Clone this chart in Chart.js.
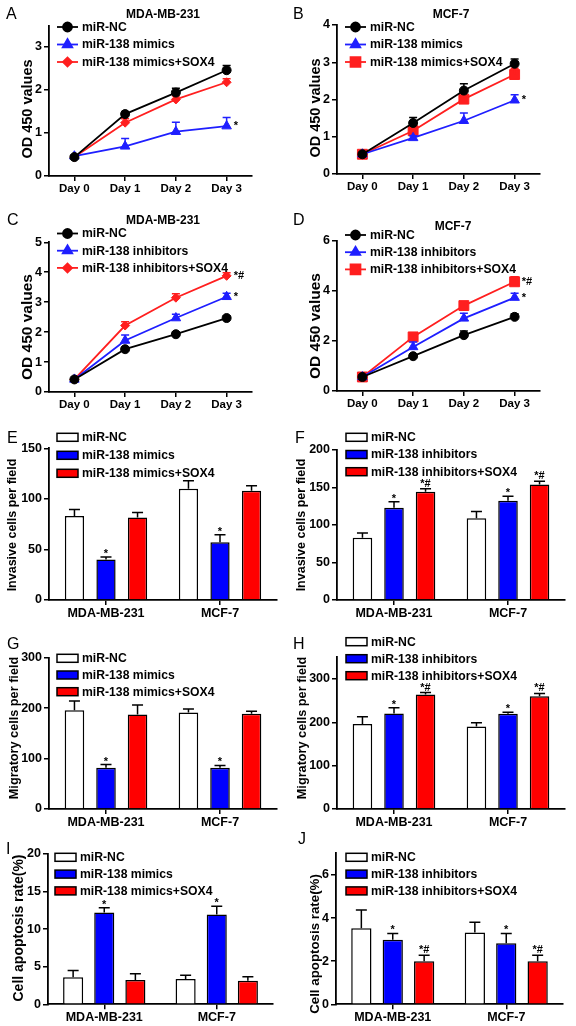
<!DOCTYPE html>
<html><head><meta charset="utf-8">
<script src="https://cdn.jsdelivr.net/npm/chart.js@4.4.0/dist/chart.umd.min.js"></script>
<style>
html,body{margin:0;padding:0;background:#fff;}
#wrap{position:relative;width:576px;height:1026px;overflow:hidden;background:#fff;}
#wrap canvas{position:absolute;}
.lbl{position:absolute;font-family:'Liberation Sans',Arial,sans-serif;font-size:16px;line-height:1;color:#000;}
</style></head><body><div id="wrap"></div>
<script>
// ---------- categories / labels ----------
const days = ['Day 0','Day 1','Day 2','Day 3'];
const cellLines = ['MDA-MB-231','MCF-7'];
const mimicsGroups = ['miR-NC','miR-138 mimics','miR-138 mimics+SOX4'];
const inhibGroups = ['miR-NC','miR-138 inhibitors','miR-138 inhibitors+SOX4'];

// ---------- A: MDA-MB-231 OD450, mimics ----------
const A_nc = [0.44,1.44,1.94,2.46],  A_ncErr = [0.03,0.06,0.10,0.11];
const A_mim = [0.46,0.69,1.03,1.16], A_mimErr = [0.02,0.18,0.22,0.20];
const A_sox = [0.44,1.24,1.78,2.18], A_soxErr = [0.02,0.09,0.08,0.08];
const A_ncMk = ['','','',''], A_mimMk = ['','','','*'], A_soxMk = ['','','',''];

// ---------- B: MCF-7 OD450, mimics ----------
const B_nc = [0.53,1.37,2.24,2.96],  B_ncErr = [0.03,0.15,0.18,0.13];
const B_mim = [0.53,0.97,1.43,1.98], B_mimErr = [0.03,0.06,0.21,0.15];
const B_sox = [0.53,1.16,2.01,2.67], B_soxErr = [0.03,0.07,0.08,0.17];
const B_ncMk = ['','','',''], B_mimMk = ['','','','*'], B_soxMk = ['','','',''];

// ---------- C: MDA-MB-231 OD450, inhibitors ----------
const C_nc = [0.42,1.43,1.93,2.47],  C_ncErr = [0.02,0.04,0.07,0.07];
const C_inh = [0.42,1.72,2.47,3.18], C_inhErr = [0.02,0.18,0.13,0.12];
const C_sox = [0.42,2.22,3.15,3.88], C_soxErr = [0.02,0.13,0.13,0.10];
const C_ncMk = ['','','',''], C_inhMk = ['','','','*'], C_soxMk = ['','','','*#'];

// ---------- D: MCF-7 OD450, inhibitors ----------
const D_nc = [0.56,1.39,2.23,2.96],  D_ncErr = [0.03,0.08,0.17,0.12];
const D_inh = [0.56,1.76,2.90,3.73], D_inhErr = [0.03,0.20,0.20,0.17];
const D_sox = [0.56,2.16,3.41,4.36], D_soxErr = [0.03,0.08,0.13,0.20];
const D_ncMk = ['','','',''], D_inhMk = ['','','','*'], D_soxMk = ['','','','*#'];

// ---------- E: invasive cells, mimics ----------
const E_nc = [83,110],   E_ncErr = [6.5,8];
const E_mim = [40,57],   E_mimErr = [2.5,7.5];
const E_sox = [81.5,108],E_soxErr = [5,5];
const E_ncMk = ['',''], E_mimMk = ['*','*'], E_soxMk = ['',''];

// ---------- F: invasive cells, inhibitors ----------
const F_nc = [83,109],     F_ncErr = [6.5,9];
const F_inh = [123,132.5], F_inhErr = [8,6];
const F_sox = [144.5,154], F_soxErr = [4,4.5];
const F_ncMk = ['',''], F_inhMk = ['*','*'], F_soxMk = ['*#','*#'];

// ---------- G: migratory cells, mimics ----------
const G_nc = [196,191.5],  G_ncErr = [18,7];
const G_mim = [82,82],     G_mimErr = [6,4.5];
const G_sox = [187.5,189], G_soxErr = [18.5,5];
const G_ncMk = ['',''], G_mimMk = ['*','*'], G_soxMk = ['',''];

// ---------- H: migratory cells, inhibitors ----------
const H_nc = [196,190.5],  H_ncErr = [17,8.5];
const H_inh = [220.5,220], H_inhErr = [13,3];
const H_sox = [264,260],   H_soxErr = [4.5,6.5];
const H_ncMk = ['',''], H_inhMk = ['*','*'], H_soxMk = ['*#','*#'];

// ---------- I: apoptosis, mimics ----------
const I_nc = [3.6,3.37],   I_ncErr = [0.9,0.5];
const I_mim = [12.2,11.95],I_mimErr = [0.65,1.1];
const I_sox = [3.25,3.15], I_soxErr = [0.8,0.5];
const I_ncMk = ['',''], I_mimMk = ['*','*'], I_soxMk = ['',''];

// ---------- J: apoptosis, inhibitors ----------
const J_nc = [3.53,3.33],  J_ncErr = [0.85,0.48];
const J_inh = [2.99,2.83], J_inhErr = [0.3,0.46];
const J_sox = [2.0,2.0],   J_soxErr = [0.28,0.28];
const J_ncMk = ['',''], J_inhMk = ['*','*'], J_soxMk = ['*#','*#'];

// ---------- styling ----------
const FONT = "'Liberation Sans', Arial, sans-serif";
const lineColors = ['#000000','#1f1fff','#ff1f1f'];
const barFills = ['#ffffff','#0000ff','#ff0000'];

const panels = [
 {key:'A',kind:'line',L:0,T:0,axisX:49,y0:176,yTop:25.5,xEnd:252,max:3.5,step:1,cats:days,groups:mimicsGroups,
  vals:[A_nc,A_mim,A_sox],errs:[A_ncErr,A_mimErr,A_soxErr],marks:[A_ncMk,A_mimMk,A_soxMk],
  styles:['circle','triangle','rectRot'],radii:[4.5,5.5,4.5],
  yTitle:'OD 450 values',yTitleX:28,yTitleY:109,yTitleSize:14.5,title:'MDA-MB-231',titleX:163,titleY:15,
  legX:57,legY:27,legDy:17.5,letter:'A',letX:6,letY:6,tickSize:12.5,xTickSize:11.5},
 {key:'B',kind:'line',L:288,T:0,axisX:337,y0:174,yTop:25,xEnd:540,max:4,step:1,cats:days,groups:mimicsGroups,
  vals:[B_nc,B_mim,B_sox],errs:[B_ncErr,B_mimErr,B_soxErr],marks:[B_ncMk,B_mimMk,B_soxMk],
  styles:['circle','triangle','rect'],radii:[4.5,5.5,7],
  yTitle:'OD 450 values',yTitleX:316,yTitleY:108,yTitleSize:14.5,title:'MCF-7',titleX:451,titleY:15,
  legX:345,legY:27,legDy:17.5,letter:'B',letX:293,letY:6,tickSize:12.5,xTickSize:11.5},
 {key:'C',kind:'line',L:0,T:200,axisX:49,y0:392,yTop:242.3,xEnd:252,max:5,step:1,cats:days,groups:inhibGroups,
  vals:[C_nc,C_inh,C_sox],errs:[C_ncErr,C_inhErr,C_soxErr],marks:[C_ncMk,C_inhMk,C_soxMk],
  styles:['circle','triangle','rectRot'],radii:[4.5,5.5,4.5],
  yTitle:'OD 450 values',yTitleX:28,yTitleY:327,yTitleSize:15.5,title:'MDA-MB-231',titleX:163,titleY:221,
  legX:57,legY:233.5,legDy:17.2,letter:'C',letX:7,letY:212,tickSize:12.5,xTickSize:11.5},
 {key:'D',kind:'line',L:288,T:200,axisX:337,y0:391,yTop:240.7,xEnd:540,max:6,step:2,cats:days,groups:inhibGroups,
  vals:[D_nc,D_inh,D_sox],errs:[D_ncErr,D_inhErr,D_soxErr],marks:[D_ncMk,D_inhMk,D_soxMk],
  styles:['circle','triangle','rect'],radii:[4.5,5.5,7],
  yTitle:'OD 450 values',yTitleX:316,yTitleY:326,yTitleSize:15.5,title:'MCF-7',titleX:453,titleY:227,
  legX:345,legY:235,legDy:17.2,letter:'D',letX:293,letY:212,tickSize:12.5,xTickSize:11.5},
 {key:'E',kind:'bar',L:0,T:405,axisX:49,y0:600,yTop:448.3,xEnd:277,max:150,step:50,cats:cellLines,groups:mimicsGroups,
  vals:[E_nc,E_mim,E_sox],errs:[E_ncErr,E_mimErr,E_soxErr],marks:[E_ncMk,E_mimMk,E_soxMk],
  yTitle:'Invasive cells per field',yTitleX:13,yTitleY:525,yTitleSize:12.5,
  legX:57,legY:437.3,legDy:18,letter:'E',letX:7,letY:430,tickSize:12.5,xTickSize:12.5,cat:0.83,bar:0.61},
 {key:'F',kind:'bar',L:288,T:405,axisX:337,y0:600,yTop:450,xEnd:565,max:200,step:50,cats:cellLines,groups:inhibGroups,
  vals:[F_nc,F_inh,F_sox],errs:[F_ncErr,F_inhErr,F_soxErr],marks:[F_ncMk,F_inhMk,F_soxMk],
  yTitle:'Invasive cells per field',yTitleX:302,yTitleY:525,yTitleSize:12.5,
  legX:346,legY:437.3,legDy:17.2,letter:'F',letX:295,letY:430,tickSize:12.5,xTickSize:12.5,cat:0.83,bar:0.62},
 {key:'G',kind:'bar',L:0,T:610,axisX:49,y0:809,yTop:657.7,xEnd:277,max:300,step:100,cats:cellLines,groups:mimicsGroups,
  vals:[G_nc,G_mim,G_sox],errs:[G_ncErr,G_mimErr,G_soxErr],marks:[G_ncMk,G_mimMk,G_soxMk],
  yTitle:'Migratory cells per field',yTitleX:14,yTitleY:728,yTitleSize:12.7,
  legX:57,legY:658.3,legDy:16.7,letter:'G',letX:7,letY:636,tickSize:12.5,xTickSize:12.5,cat:0.83,bar:0.62},
 {key:'H',kind:'bar',L:288,T:610,axisX:337,y0:809,yTop:657.3,xEnd:565,max:350,step:100,cats:cellLines,groups:inhibGroups,
  vals:[H_nc,H_inh,H_sox],errs:[H_ncErr,H_inhErr,H_soxErr],marks:[H_ncMk,H_inhMk,H_soxMk],
  yTitle:'Migratory cells per field',yTitleX:302,yTitleY:728,yTitleSize:12.7,
  legX:346,legY:641.7,legDy:17,letter:'H',letX:293,letY:636,tickSize:12.5,xTickSize:12.5,cat:0.83,bar:0.62},
 {key:'I',kind:'bar',L:0,T:815,axisX:48,y0:1004.3,yTop:854,xEnd:273,max:20,step:5,cats:cellLines,groups:mimicsGroups,
  vals:[I_nc,I_mim,I_sox],errs:[I_ncErr,I_mimErr,I_soxErr],marks:[I_ncMk,I_mimMk,I_soxMk],
  yTitle:'Cell apoptosis rate(%)',yTitleX:19,yTitleY:928,yTitleSize:14,
  legX:55,legY:857.3,legDy:16.8,letter:'I',letX:6,letY:841,tickSize:12.5,xTickSize:12.5,cat:0.83,bar:0.645},
 {key:'J',kind:'bar',L:288,T:815,axisX:336,y0:1004.3,yTop:853.4,xEnd:563,max:7,step:2,cats:cellLines,groups:inhibGroups,
  vals:[J_nc,J_inh,J_sox],errs:[J_ncErr,J_inhErr,J_soxErr],marks:[J_ncMk,J_inhMk,J_soxMk],
  yTitle:'Cell apoptosis rate(%)',yTitleX:315.5,yTitleY:944,yTitleSize:13.3,
  legX:346,legY:857.3,legDy:16.8,letter:'J',letX:298,letY:831,tickSize:12.5,xTickSize:12.5,cat:0.83,bar:0.645}
];

// ---------- plugins ----------
const errPlugin = {
  id:'errBars',
  afterDatasetDraw(chart, args){
    const ds = chart.data.datasets[args.index];
    if(!ds.err) return;
    const ys = chart.scales.y, ctx = chart.ctx;
    ctx.save(); ctx.strokeStyle = ds.errColor; ctx.lineWidth = 1.5;
    args.meta.data.forEach((el,i)=>{
      const e = ds.err[i]; if(!e) return;
      const v = ds.data[i];
      const yb = ys.getPixelForValue(v), yt = ys.getPixelForValue(v+e);
      ctx.beginPath();
      ctx.moveTo(el.x, yb); ctx.lineTo(el.x, yt);
      ctx.moveTo(el.x - ds.capW/2, yt); ctx.lineTo(el.x + ds.capW/2, yt);
      ctx.stroke();
    });
    ctx.restore();
  }
};

const decoPlugin = {
  id:'deco',
  afterDraw(chart, args, o){
    const ctx = chart.ctx, ys = chart.scales.y;
    const p = o.p;
    // significance marks
    ctx.save();
    ctx.fillStyle = '#000';
    ctx.font = 'bold 11px ' + FONT;
    chart.data.datasets.forEach((ds,di)=>{
      const meta = chart.getDatasetMeta(di);
      meta.data.forEach((el,i)=>{
        const m = ds.marks[i]; if(!m) return;
        if(p.kind==='line'){
          ctx.textAlign='left'; ctx.textBaseline='alphabetic';
          ctx.fillText(m, el.x+7, el.y+3);
        } else {
          const yt = ys.getPixelForValue(ds.data[i] + (ds.err[i]||0));
          ctx.textAlign='center'; ctx.textBaseline='alphabetic';
          ctx.fillText(m, el.x, yt - (m.length>1 ? 2 : 0));
        }
      });
    });
    // legend
    chart.data.datasets.forEach((ds,di)=>{
      const x = p.legX - p.L, y = p.legY - p.T + di*p.legDy;
      if(p.kind==='line'){
        ctx.strokeStyle = ds.borderColor; ctx.lineWidth = 1.8;
        ctx.beginPath(); ctx.moveTo(x, y); ctx.lineTo(x+21, y); ctx.stroke();
        ctx.fillStyle = ds.borderColor; ctx.strokeStyle = ds.borderColor;
        Chart.helpers.drawPoint(ctx, {pointStyle: ds.pointStyle, radius: ds.pointRadius, rotation:0, borderWidth:1}, x+10.5, y);
      } else {
        ctx.fillStyle = ds.backgroundColor; ctx.strokeStyle = '#000'; ctx.lineWidth = 1.5;
        ctx.fillRect(x, y-4, 21, 8); ctx.strokeRect(x, y-4, 21, 8);
      }
      ctx.fillStyle = '#000';
      ctx.font = 'bold 12.2px ' + FONT;
      ctx.textAlign='left'; ctx.textBaseline='middle';
      ctx.fillText(ds.label, x + (p.kind==='line'?25:25), y+0.5);
    });
    // panel title
    if(p.title){
      ctx.font = 'bold 12px ' + FONT;
      ctx.textAlign='center'; ctx.textBaseline='middle';
      ctx.fillText(p.title, p.titleX - p.L, p.titleY - p.T);
    }
    // y axis title
    ctx.translate(p.yTitleX - p.L, p.yTitleY - p.T);
    ctx.rotate(-Math.PI/2);
    ctx.font = 'bold ' + p.yTitleSize + 'px ' + FONT;
    ctx.textAlign='center'; ctx.textBaseline='middle';
    ctx.fillText(p.yTitle, 0, 0);
    ctx.restore();
  }
};

const wrap = document.getElementById('wrap');

panels.forEach(p=>{
  const XH = 30;
  const H = Math.ceil(p.y0 - p.T + XH);
  const cv = document.createElement('canvas');
  cv.width = 288; cv.height = H;
  cv.style.left = p.L+'px'; cv.style.top = p.T+'px';
  cv.style.width = '288px'; cv.style.height = H+'px';
  wrap.appendChild(cv);

  const lbl = document.createElement('div');
  lbl.className = 'lbl'; lbl.textContent = p.letter;
  lbl.style.left = p.letX+'px'; lbl.style.top = p.letY+'px';
  wrap.appendChild(lbl);

  const datasets = p.groups.map((g,i)=>{
    if(p.kind==='line'){
      return {label:g, data:p.vals[i], err:p.errs[i], marks:p.marks[i],
        borderColor:lineColors[i], backgroundColor:lineColors[i], borderWidth:1.8, tension:0,
        pointStyle:p.styles[i], pointRadius:p.radii[i], pointBorderWidth:1,
        pointBackgroundColor:lineColors[i], pointBorderColor:lineColors[i],
        errColor:lineColors[i], capW:8};
    }
    return {label:g, data:p.vals[i], err:p.errs[i], marks:p.marks[i],
      backgroundColor:barFills[i], borderColor:'#000', borderWidth:1.5,
      categoryPercentage:p.cat, barPercentage:p.bar, errColor:'#000', capW:11};
  });

  const axisCommon = {
    grid:{display:true, drawOnChartArea:false, drawTicks:true, tickLength:5, color:'#000', lineWidth:1.5, offset:false},
    border:{display:true, color:'#000', width:1.8}
  };

  new Chart(cv.getContext('2d'), {
    type: p.kind,
    data: {labels: p.cats, datasets},
    options: {
      responsive:false, animation:false, devicePixelRatio:1,
      layout:{padding:{left:0, top:p.yTop - p.T, right:288 - (p.xEnd - p.L), bottom: H - XH - (p.y0 - p.T)}},
      plugins:{legend:{display:false}, tooltip:{enabled:false}, title:{display:false}, deco:{p}},
      scales:{
        x:{type:'category', offset:true, ...axisCommon,
          ticks:{color:'#000', font:{family:FONT, size:p.xTickSize, weight:'bold'}, padding:1, maxRotation:0, autoSkip:false},
          afterFit(s){ s.height = XH; }},
        y:{min:0, max:p.max, ...axisCommon,
          ticks:{stepSize:p.step, includeBounds:false, color:'#000', font:{family:FONT, size:p.tickSize, weight:'bold'}, padding:2},
          afterFit(s){ s.width = p.axisX - p.L; }}
      }
    },
    plugins:[errPlugin, decoPlugin]
  });
});
</script>
</body></html>
